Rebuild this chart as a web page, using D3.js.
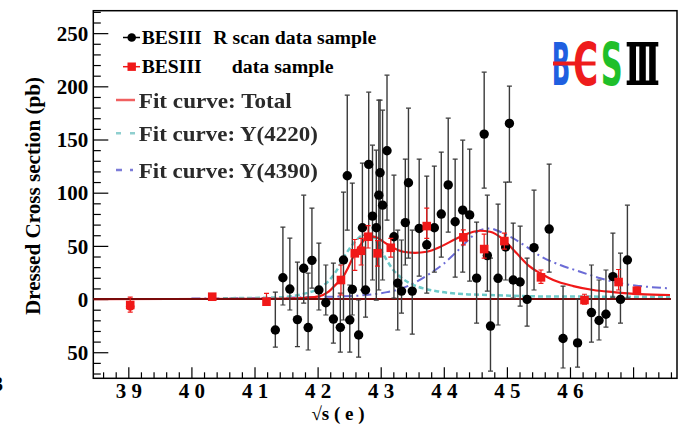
<!DOCTYPE html>
<html><head><meta charset="utf-8">
<script src="https://cdn.jsdelivr.net/npm/d3@7"></script>
<style>
html,body{margin:0;padding:0;background:#fff;overflow:hidden;}
svg{display:block;font-family:"Liberation Serif","Times New Roman",serif;font-weight:bold;}
</style></head><body>
<svg id="c" width="686" height="427"></svg>
<script>
// ---------------- data ----------------
// BESIII R scan data sample: [sqrt(s), sigma, errLowEnd, errHighEnd]
const rScanPoints = [
  [4.133,-29.1,-45.1,6.6],[4.145,20.0,-5.6,67.7],[4.156,9.4,-10.3,57.3],[4.168,-19.3,-44.8,34.8],
  [4.178,28.9,-3.8,97.7],[4.185,-26.8,-47.9,24.4],[4.191,36.4,10.3,85.5],[4.202,8.5,-10.3,52.6],
  [4.213,-3.5,-15,32],[4.225,-18.8,-41.4,33.8],[4.236,-26.6,-49.8,5.6],[4.241,36.7,-19.7,100.6],
  [4.247,115.9,64.8,191.7],[4.251,-19.7,-49.8,13.2],[4.255,9.1,-15,109],[4.265,-33.8,-54.5,-0.9],
  [4.271,67.0,8.5,127.8],[4.276,8.5,-17,60],[4.281,126.6,58.3,194.5],[4.287,78.0,17.9,144.7],
  [4.293,67.0,-1,140],[4.297,97.7,8.5,187],[4.299,118.7,46,187],[4.303,88.3,17.9,177.6],
  [4.310,139.4,74.2,210.5],[4.321,58.6,0.9,116.5],[4.327,15.0,-29.1,64.8],[4.333,7.5,-13.2,55.5],
  [4.339,71.9,32,131.6],[4.344,109.3,38.5,179.5],[4.350,7.5,-32.9,64.8],[4.361,66.4,21.6,131.6],
  [4.373,51.0,5.6,115.6],[4.385,67.0,25.4,125],[4.396,79.9,39.5,138.2],[4.407,107.3,63,170.1],
  [4.418,72.7,20.7,131.6],[4.430,83.6,25.4,149.4],[4.441,79.1,16.9,141],[4.452,19.7,-22.6,72.4],
  [4.464,155.1,104.3,213.3],[4.469,40.9,7.5,97.7],[4.474,-25.4,-67.7,38.5],[4.486,19.5,-24.4,89.3],
  [4.498,48.9,17.9,110],[4.504,165.1,110,200.2],[4.510,17.9,0.9,71.4],[4.521,16.0,-6.6,68.6],
  [4.532,-0.3,-25.4,38.5],[4.543,48.4,8.5,102.4],[4.567,65.8,25.4,126.9],[4.589,-37.1,-64.8,12.2],
  [4.612,-41.2,-63.9,0],[4.634,-12.7,-40.4,32],[4.646,-20.2,-38.5,17.9],[4.657,-14.3,-26.3,27.3],
  [4.668,21.1,1.9,62],[4.680,-0.3,-22.6,43.2],[4.691,36.7,0.9,88.3]
];
// BESIII data sample (red squares): [sqrt(s), sigma, errLowEnd, errHighEnd]
const xyzPoints = [
  [3.903,-5.6,-12.2,1.9],[4.033,2.2,0.5,4.0],[4.119,-2.5,-5.5,5.3],[4.237,17.9,3.8,32],
  [4.259,43.0,27,56],[4.269,45.4,32,57],[4.280,58.6,48,69],[4.295,43.0,31,55],
  [4.316,48.2,39.5,57],[4.373,68.6,57,85.5],[4.431,58.0,51,65],[4.464,47.0,38.5,61],
  [4.496,54.5,47,62],[4.554,20.4,14.8,27.3],[4.623,-0.9,-4.7,4.5],[4.677,16.0,8.5,27.8],
  [4.706,7.8,4.7,11.3]
];
// fit curves: [sqrt(s), sigma]
const fitTotal = [
  [3.845,0],[4.10,0.2],[4.15,0.5],[4.18,1.2],[4.2017,2.5],[4.2175,6.9],[4.2308,14.8],[4.2371,18],
  [4.2487,30],[4.2593,43],[4.2699,52.6],[4.2803,59],[4.2910,58.5],[4.3041,54],[4.3174,49],
  [4.3358,44.5],[4.3544,43.5],[4.3729,44.5],[4.3940,49],[4.4204,57],[4.4415,62.3],[4.4574,64.2],
  [4.4732,63.3],[4.4943,56],[4.5155,43],[4.5366,30.4],[4.5577,22.6],[4.5735,17.9],[4.6052,12.2],
  [4.6369,8.5],[4.6686,6.6],[4.7109,4.7],[4.7585,3.8]
];
const fitY4220 = [
  [4.05,0.8],[4.1330,1.5],[4.1753,4.5],[4.2017,10],[4.2175,17],[4.2303,27],[4.2434,41],[4.2566,52],
  [4.2672,58.5],[4.2778,60.8],[4.2884,58.5],[4.2989,47.6],[4.3095,36.7],[4.3200,27.3],[4.3306,21],
  [4.3464,14.8],[4.3675,10],[4.3940,6.9],[4.4309,4.7],[4.4732,3.8],[4.5260,2.8],[4.5688,2.4],[4.7585,2.2]
];
const fitY4390 = [
  [4.00,0.5],[4.10,0.8],[4.2041,2],[4.24,2.5],[4.28,4],[4.31,6.5],[4.3338,10],[4.3570,16.3],
  [4.3781,24],[4.3992,33],[4.4204,44.5],[4.4415,57],[4.4574,64.8],[4.4732,66.4],[4.4891,63.3],
  [4.5102,57],[4.5314,49],[4.5526,40.5],[4.5846,32],[4.6163,25.7],[4.6480,19.5],[4.6797,14.8],
  [4.7114,12.2],[4.7585,10]
];
const zeroLine = [[3.845,0],[4.76,0]];
const xMajorTicks = [3.9,4.0,4.1,4.2,4.3,4.4,4.5,4.6,4.7];
const xTickLabels = ["3 9","4 0","4 1","4 2","4 3","4 4","4 5","4 6",""];
const yMajorTicks = [-50,0,50,100,150,200,250];
const yTickLabels = ["50","0","50","100","150","200","250"];
const legendLabels = ["BESIII","R scan data sample","BESIII","data sample",
  "Fit curve: Total","Fit curve: Y(4220)","Fit curve: Y(4390)"];
const xTitle = "\u221As ( e )";
const yTitle = "Dressed Cross section (pb)";

// ---------------- drawing ----------------
const svg = d3.select("#c");
const L=93.3, R=677, T=10.7, B=378.3;
const x = d3.scaleLinear().domain([3.8445,4.7696]).range([L,R]);
const y = d3.scaleLinear().domain([-74.5,271.1]).range([B,T]);

const defs = svg.append("defs");
defs.append("filter").attr("id","blur").attr("filterUnits","userSpaceOnUse")
  .attr("x",0).attr("y",0).attr("width",686).attr("height",427)
  .append("feGaussianBlur").attr("stdDeviation",0.75);
defs.append("clipPath").attr("id","clip").append("rect").attr("x",L).attr("y",T).attr("width",R-L).attr("height",B-T);

// axes
const xMinor = d3.range(3.86,4.77,0.02).filter(v=>Math.abs(Math.round(v*10)-v*10)>1e-6);
const yMinor = d3.range(-70,271,10).filter(v=>v%50!==0);

const gx = svg.append("g").attr("transform",`translate(0,${B})`)
  .call(d3.axisBottom(x).tickValues(xMajorTicks).tickSize(-11).tickPadding(5)
    .tickFormat((d,i)=>xTickLabels[i]));
const gxm = svg.append("g").attr("transform",`translate(0,${B})`)
  .call(d3.axisBottom(x).tickValues(xMinor).tickSize(-6).tickFormat(""));
const gy = svg.append("g").attr("transform",`translate(${L},0)`)
  .call(d3.axisLeft(y).tickValues(yMajorTicks).tickSize(-15).tickPadding(5)
    .tickFormat((d,i)=>yTickLabels[i]));
const gym = svg.append("g").attr("transform",`translate(${L},0)`)
  .call(d3.axisLeft(y).tickValues(yMinor).tickSize(-7.5).tickFormat(""));
[gx,gxm,gy,gym].forEach(g=>{
  g.select(".domain").remove();
  g.selectAll("line").attr("stroke","#000").attr("stroke-width",1.2);
  g.selectAll("text").attr("fill","#000").style("font-family",'"Liberation Serif",serif').style("font-weight","bold");
});
gx.selectAll("text").style("font-size","21px").style("white-space","pre");
gy.selectAll("text").style("font-size","21px").attr("dy","0.34em");

// frame
svg.append("rect").attr("x",L).attr("y",T).attr("width",R-L).attr("height",B-T)
  .attr("fill","none").attr("stroke","#000").attr("stroke-width",1.5);

// titles
svg.append("text").attr("x",338).attr("y",420).attr("text-anchor","middle")
  .style("font-size","19px").style("white-space","pre").text(xTitle);
svg.append("text").attr("transform","translate(33,196) rotate(-90)").attr("text-anchor","middle")
  .attr("dy","0.35em").attr("textLength",238).attr("lengthAdjust","spacingAndGlyphs")
  .style("font-size","21px").text(yTitle);
svg.append("text").attr("x",-7).attr("y",391).style("font-size","20px").text("3");

const plot = svg.append("g").attr("clip-path","url(#clip)");
const line = d3.line().x(d=>x(d[0])).y(d=>y(d[1]));
const smooth = d3.line().x(d=>x(d[0])).y(d=>y(d[1])).curve(d3.curveMonotoneX);

// fit curves
plot.append("path").attr("d",smooth(fitY4390)).attr("fill","none").attr("stroke","#6b6bd6")
  .attr("stroke-width",2).attr("stroke-dasharray","9,4,2,4");
plot.append("path").attr("d",smooth(fitY4220)).attr("fill","none").attr("stroke","#6cc9c9")
  .attr("stroke-width",2.5).attr("stroke-dasharray","5,3");
plot.append("path").attr("d",smooth(fitTotal)).attr("fill","none").attr("stroke","#f01818")
  .attr("stroke-width",2.2);

// zero line
plot.append("path").attr("d",line(zeroLine)).attr("stroke","#7a0a0a").attr("stroke-width",2).attr("fill","none");

// black R scan points
const gb = plot.append("g");
rScanPoints.forEach(p=>{
  const cx=x(p[0]);
  gb.append("line").attr("x1",cx).attr("x2",cx).attr("y1",y(p[2])).attr("y2",y(p[3])).attr("stroke","#3a3a3a").attr("stroke-width",1.4);
  [p[2],p[3]].forEach(v=>gb.append("line").attr("x1",cx-2.5).attr("x2",cx+2.5).attr("y1",y(v)).attr("y2",y(v)).attr("stroke","#3a3a3a").attr("stroke-width",1.2));
});
gb.selectAll("circle").data(rScanPoints).join("circle")
  .attr("cx",d=>x(d[0])).attr("cy",d=>y(d[1])).attr("r",4.7).attr("fill","#000");

// red squares
const gr = plot.append("g");
xyzPoints.forEach(p=>{
  const cx=x(p[0]);
  gr.append("line").attr("x1",cx).attr("x2",cx).attr("y1",y(p[2])).attr("y2",y(p[3])).attr("stroke","#f01818").attr("stroke-width",1.2);
  [p[2],p[3]].forEach(v=>gr.append("line").attr("x1",cx-2.5).attr("x2",cx+2.5).attr("y1",y(v)).attr("y2",y(v)).attr("stroke","#f01818").attr("stroke-width",1.2));
});
gr.append("circle").attr("cx",x(xyzPoints[0][0])).attr("cy",y(xyzPoints[0][1])+1.5).attr("r",4.3).attr("fill","#f01818");
gr.selectAll("rect").data(xyzPoints).join("rect")
  .attr("x",d=>x(d[0])-4.3).attr("y",d=>y(d[1])-4.3).attr("width",8.6).attr("height",8.6).attr("fill","#f01818");

// legend
const lg = svg.append("g");
lg.append("line").attr("x1",123).attr("x2",140).attr("y1",37.5).attr("y2",37.5).attr("stroke","#000").attr("stroke-width",1.5);
lg.append("circle").attr("cx",131.7).attr("cy",37.5).attr("r",4.3).attr("fill","#000");
lg.append("line").attr("x1",123).attr("x2",140).attr("y1",66.7).attr("y2",66.7).attr("stroke","#f01818").attr("stroke-width",1.5);
lg.append("rect").attr("x",127.5).attr("y",62.5).attr("width",8.4).attr("height",8.4).attr("fill","#f01818");
const t1 = [[141.7,37.5,60,0],[213.3,37.5,163,1],[141.7,66.7,60,2],[231.7,66.7,102,3]];
t1.forEach(t=>lg.append("text").attr("x",t[0]).attr("y",t[1]).attr("dy","0.35em")
  .attr("textLength",t[2]).attr("lengthAdjust","spacingAndGlyphs").style("font-size","18px").text(legendLabels[t[3]]));
lg.append("line").attr("x1",116).attr("x2",135).attr("y1",100).attr("y2",100).attr("stroke","#f06060").attr("stroke-width",2.5).attr("filter","url(#blur)");
lg.append("line").attr("x1",116).attr("x2",136).attr("y1",133.3).attr("y2",133.3).attr("stroke","#8fcfcf").attr("stroke-width",2.5).attr("stroke-dasharray","5,9").attr("filter","url(#blur)");
lg.append("line").attr("x1",116).attr("x2",136).attr("y1",170).attr("y2",170).attr("stroke","#7b7bd8").attr("stroke-width",2.5).attr("stroke-dasharray","6,8,3,8").attr("filter","url(#blur)");
const t2 = [[138.8,100,153,4],[138.8,133.3,179,5],[138.8,170,179,6]];
t2.forEach(t=>lg.append("text").attr("x",t[0]).attr("y",t[1]).attr("dy","0.35em").attr("fill","#2a2a2a")
  .attr("filter","url(#blur)").attr("textLength",t[2]).attr("lengthAdjust","spacingAndGlyphs")
  .style("font-size","22px").text(legendLabels[t[3]]));

// BESIII logo
const lo = svg.append("g").style("font-family",'"DejaVu Sans",sans-serif').style("font-weight","bold");
const logoLetters = [["B",551.7,18.5,"#1f5fe0"],["C",573.2,25,"#ee1c1c"],["S",600.8,22,"#1fbf2a"]];
logoLetters.forEach(l=>lo.append("text").attr("x",l[1]).attr("y",85).attr("textLength",l[2])
  .attr("lengthAdjust","spacingAndGlyphs").style("font-size","59px").attr("fill",l[3]).text(l[0]));
lo.append("rect").attr("x",553).attr("y",61.5).attr("width",42.5).attr("height",4).attr("fill","#ee1c1c");
const III = lo.append("g").attr("fill","#000");
III.append("rect").attr("x",626.7).attr("y",42).attr("width",31.6).attr("height",4.5);
III.append("rect").attr("x",626.7).attr("y",80.5).attr("width",31.6).attr("height",4.5);
[629.5,639.3,649.2].forEach(px=>III.append("rect").attr("x",px).attr("y",42).attr("width",6.5).attr("height",43));
</script>
</body></html>
